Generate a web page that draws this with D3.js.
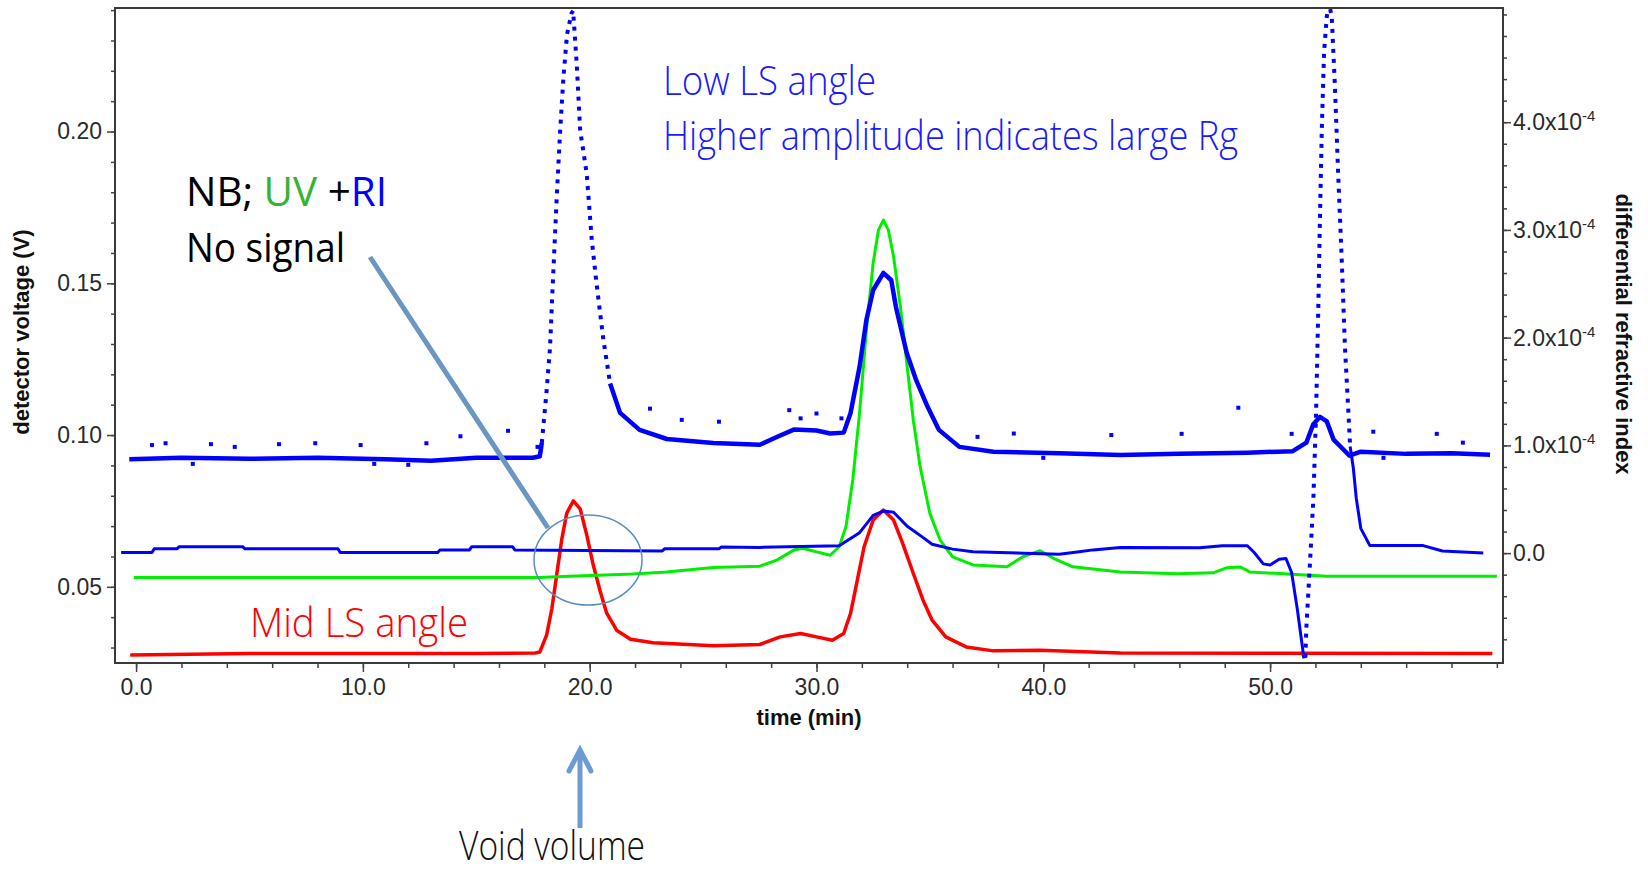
<!DOCTYPE html>
<html>
<head>
<meta charset="utf-8">
<script src="https://cdn.jsdelivr.net/npm/d3@7"></script>
<style>
  html, body { margin: 0; padding: 0; background: #fff; }
  svg { display: block; }
  .tick text { font-family: "Liberation Sans", Arial, sans-serif; fill: #2a2a2a; }
  .note { font-family: "Open Sans", "Noto Sans", sans-serif; }
</style>
</head>
<body>
<svg id="chart" width="1648" height="871"></svg>
<script>
// ---- data ----
// low-angle light scattering (blue dots, left axis, V)
const lsTime = [-0.3, 2, 5, 8, 11, 13, 15, 17.5, 17.8, 17.89, 18.1, 18.25, 18.4, 18.55, 18.7, 18.84, 19.0, 19.2, 19.27,
  19.43, 19.58, 19.87, 20.09, 20.3, 20.6, 20.9, 21.34, 22.2, 23.4, 25.45, 27.5, 28.3, 29.0, 30.0, 30.6, 31.2, 31.5,
  31.9, 32.2, 32.5, 32.95, 33.3, 33.5, 33.98, 34.4, 34.9, 35.4, 36.3, 37.8, 40.7, 43.4, 46, 49, 51.0, 51.6, 51.9,
  52.2, 52.5, 52.8, 53.2, 53.5, 54, 56, 58, 59.7];
const lsVolt = [0.092, 0.0925, 0.0922, 0.0925, 0.092, 0.0915, 0.0925, 0.0925, 0.093, 0.0974, 0.1145, 0.1287, 0.1543,
  0.1788, 0.2005, 0.2176, 0.232, 0.239, 0.2398, 0.222, 0.2005, 0.186, 0.1645, 0.150, 0.1316, 0.117, 0.1073, 0.1017,
  0.0987, 0.0974, 0.0968, 0.0995, 0.1018, 0.1015, 0.1005, 0.1008, 0.1072, 0.1225, 0.1379, 0.1478, 0.1534, 0.151,
  0.1423, 0.127, 0.118, 0.1093, 0.1017, 0.0961, 0.0945, 0.094, 0.0934, 0.0938, 0.0942, 0.0947, 0.0975, 0.1035,
  0.106, 0.1045, 0.0985, 0.0955, 0.0932, 0.0945, 0.0938, 0.094, 0.0935];
// stray points of the noisy LS baseline
const lsSpikeTime = [0.7, 1.3, 2.5, 3.3, 4.35, 6.3, 7.9, 9.9, 10.5, 12.0, 12.8, 14.3, 16.4, 17.7, 22.66, 24.06, 25.7,
  28.8, 29.3, 30.0, 31.1, 37.1, 38.7, 40.0, 43.0, 46.1, 48.6, 50.95, 54.55, 55.0, 57.35, 58.5];
const lsSpikeVolt = [0.0967, 0.0973, 0.0905, 0.097, 0.0961, 0.097, 0.0973, 0.0967, 0.0905, 0.0902, 0.0973, 0.0996,
  0.1014, 0.0961, 0.1087, 0.105, 0.1044, 0.1082, 0.1055, 0.1071, 0.1055, 0.0994, 0.1005, 0.0925, 0.100, 0.1004,
  0.109, 0.1004, 0.1011, 0.0925, 0.1004, 0.0975];

// mid-angle light scattering (red, left axis, V)
const midTime = [-0.26, 5, 10, 15, 17.6, 17.8, 18.1, 18.33, 18.55, 18.77, 18.99, 19.28, 19.58, 19.87, 20.16, 20.46,
  20.75, 21.2, 21.8, 22.8, 25.45, 27.5, 28.4, 29.3, 30.0, 30.7, 31.2, 31.5, 31.8, 32.1, 32.5, 32.95, 33.4, 33.8,
  34.27, 34.7, 35.1, 35.7, 36.6, 37.8, 39.86, 43.4, 50, 59.8];
const midVolt = [0.0275, 0.028, 0.028, 0.028, 0.0282, 0.0285, 0.0341, 0.0427, 0.0542, 0.0657, 0.0743, 0.0783,
  0.0757, 0.0671, 0.0571, 0.0486, 0.0413, 0.0356, 0.0327, 0.0316, 0.0306, 0.031, 0.0335, 0.0346, 0.0335, 0.0324,
  0.0346, 0.0412, 0.0522, 0.0632, 0.072, 0.0753, 0.072, 0.0643, 0.0544, 0.0456, 0.039, 0.0335, 0.0302, 0.0289,
  0.0291, 0.0282, 0.0281, 0.028];

// UV (green, left axis, V)
const uvTime = [-0.1, 17.8, 19.1, 21.9, 23.4, 25.45, 27.5, 28.25, 29.0, 29.4, 30.0, 30.6, 31.0, 31.3, 31.6, 31.9,
  32.2, 32.5, 32.73, 32.95, 33.17, 33.4, 33.7, 34.0, 34.27, 34.57, 35.0, 35.45, 36.0, 36.9, 38.4, 39.1, 39.86,
  40.45, 41.3, 43.4, 45.9, 47.5, 48.1, 48.7, 49.1, 50.6, 52.5, 60.0];
const uvVolt = [0.0531, 0.0531, 0.0535, 0.0542, 0.0549, 0.0564, 0.0568, 0.0588, 0.0621, 0.0627, 0.0615, 0.0604,
  0.0632, 0.0698, 0.0852, 0.1072, 0.1346, 0.1567, 0.1675, 0.1708, 0.1675, 0.1588, 0.1423, 0.1225, 0.1049, 0.0896,
  0.0742, 0.0654, 0.0599, 0.0572, 0.0566, 0.0599, 0.0619, 0.0594, 0.0566, 0.0549, 0.0543, 0.0546, 0.0563, 0.0565,
  0.0549, 0.0543, 0.0535, 0.0535];

// refractive index (blue line, right axis, x1e-4)
const riTime = [-0.66, 0.7, 0.8, 1.8, 1.9, 4.7, 4.8, 8.9, 9.0, 13.3, 13.4, 14.7, 14.8, 16.6, 16.7, 23.2, 23.3,
  25.7, 25.8, 27.5, 31.0, 31.9, 32.5, 32.95, 33.4, 34.0, 34.6, 35.1, 36.0, 36.9, 40.7, 41.5, 42.2, 43.4, 46.9,
  47.9, 49.0, 49.3, 49.7, 50.0, 50.4, 50.7, 50.95, 51.2, 51.47, 51.55, 51.6, 51.76, 51.91, 52.03, 52.13, 52.2,
  52.28, 52.38, 52.5, 52.6, 52.72, 52.86, 53.0, 53.16, 53.3, 53.45, 53.53, 53.67, 53.8, 54.0, 54.4, 56.75, 57.6, 59.4];
const riDelta = [0.006, 0.006, 0.04, 0.04, 0.06, 0.06, 0.04, 0.04, 0.006, 0.006, 0.03, 0.03, 0.06, 0.06, 0.03,
  0.02, 0.04, 0.04, 0.056, 0.053, 0.068, 0.19, 0.35, 0.39, 0.38, 0.25, 0.16, 0.083, 0.037, 0.012, -0.01, 0.01,
  0.03, 0.053, 0.05, 0.068, 0.068, 0.006, -0.10, -0.11, -0.056, -0.05, -0.18, -0.52, -0.94, -1.0, -0.69, -0.09,
  0.51, 1.32, 2.32, 3.12, 3.93, 4.65, 4.98, 5.1, 4.98, 4.33, 3.53, 2.72, 1.92, 1.32, 0.99, 0.79, 0.51, 0.23, 0.07,
  0.07, 0.02, 0.0];

// ticks
const timeTicks = [0, 10, 20, 30, 40, 50];
const voltTicks = [0.05, 0.10, 0.15, 0.20];
const riTicks = [0, 1, 2, 3, 4];

// ---- layout ----
const L = 115, R = 1503, T = 8, B = 663;
const svg = d3.select('#chart');

const x  = d3.scaleLinear().domain([-0.93, 60.27]).range([L, R]);
const yL = d3.scaleLinear().domain([0.0249, 0.2407]).range([B, T]);
const yR = d3.scaleLinear().domain([-1.02, 5.06]).range([B, T]);

svg.append('defs').append('clipPath').attr('id', 'plot')
    .append('rect').attr('x', L).attr('y', T).attr('width', R - L).attr('height', B - T);

const toRows = (ts, vs) => ts.map((t, i) => ({ t, v: vs[i] }));
const ls  = toRows(lsTime, lsVolt);
const mid = toRows(midTime, midVolt);
const uv  = toRows(uvTime, uvVolt);
const ri  = toRows(riTime, riDelta);

const lineL = d3.line().x(d => x(d.t)).y(d => yL(d.v));
const lineR = d3.line().x(d => x(d.t)).y(d => yR(d.v));

const g = svg.append('g').attr('clip-path', 'url(#plot)');

// steep stretches were sampled sparsely, they show as dotted runs
function drawSeries(rows, line, color, width, fast) {
    const inFast = t => fast.some(([a, b]) => t > a && t < b);
    const slow = [];
    let cur = [];
    rows.forEach((d, i) => {
        cur.push(d);
        const nxt = rows[i + 1];
        if (nxt && inFast((d.t + nxt.t) / 2)) { slow.push(cur); cur = []; }
    });
    slow.push(cur);
    slow.filter(s => s.length > 1).forEach(s => {
        g.append('path').attr('d', line(s)).attr('fill', 'none')
            .attr('stroke', color).attr('stroke-width', width).attr('stroke-linejoin', 'round');
    });
    fast.forEach(([a, b]) => {
        const seg = rows.filter(d => d.t >= a && d.t <= b);
        g.append('path').attr('d', line(seg)).attr('fill', 'none')
            .attr('stroke', color).attr('stroke-width', 4).attr('stroke-dasharray', '4 6');
    });
}

drawSeries(mid, lineL, '#ff0000', 3.5, []);
drawSeries(uv, lineL, '#00ee00', 3, []);
drawSeries(ri, lineR, '#0000ff', 3, [[51.47, 53.53]]);
drawSeries(ls, lineL, '#0000ff', 4.5, [[17.85, 20.9]]);

g.selectAll('.spk')
    .data(toRows(lsSpikeTime, lsSpikeVolt))
    .join('rect')
    .attr('class', 'spk')
    .attr('x', d => x(d.t) - 2)
    .attr('y', d => yL(d.v) - 2)
    .attr('width', 4)
    .attr('height', 4)
    .attr('fill', '#0000ff');

// ---- axes ----
function styleAxis(sel, size) {
    sel.select('.domain').remove();
    sel.selectAll('.tick line').attr('stroke', '#444').attr('stroke-width', 1.5);
    sel.selectAll('.tick text').attr('font-size', size);
}

svg.append('g').attr('transform', `translate(0,${B})`)
    .call(d3.axisBottom(x).tickValues(d3.range(0, 61, 2)).tickSize(5).tickFormat(''))
    .call(s => styleAxis(s, 0));
svg.append('g').attr('transform', `translate(0,${B})`)
    .call(d3.axisBottom(x).tickValues(timeTicks).tickSize(9).tickPadding(7).tickFormat(d3.format('.1f')))
    .call(s => styleAxis(s, 23));

svg.append('g').attr('transform', `translate(${L},0)`)
    .call(d3.axisLeft(yL).tickValues(d3.range(0.03, 0.2405, 0.01)).tickSize(4).tickFormat(''))
    .call(s => styleAxis(s, 0));
svg.append('g').attr('transform', `translate(${L},0)`)
    .call(d3.axisLeft(yL).tickValues(voltTicks).tickSize(8).tickPadding(5).tickFormat(d3.format('.2f')))
    .call(s => styleAxis(s, 23));

svg.append('g').attr('transform', `translate(${R},0)`)
    .call(d3.axisRight(yR).tickValues(d3.range(-0.8, 5.01, 0.2)).tickSize(4).tickFormat(''))
    .call(s => styleAxis(s, 0));
const rAx = svg.append('g').attr('transform', `translate(${R},0)`)
    .call(d3.axisRight(yR).tickValues(riTicks).tickSize(8).tickPadding(2).tickFormat(''))
    .call(s => styleAxis(s, 23));
rAx.selectAll('.tick text').each(function (d) {
    const t = d3.select(this);
    if (d === 0) { t.text('0.0'); return; }
    t.append('tspan').text(d3.format('.1f')(d) + 'x10');
    t.append('tspan').attr('dy', -9).attr('font-size', 15).text('-4');
});

svg.append('rect').attr('x', L).attr('y', T).attr('width', R - L).attr('height', B - T)
    .attr('fill', 'none').attr('stroke', '#3a3a3a').attr('stroke-width', 2);

const title = { 'font-family': '"Liberation Sans", Arial, sans-serif', 'font-weight': 'bold', 'font-size': 22, fill: '#111' };
function addTitle(txt, tf) {
    const t = svg.append('text').attr('transform', tf).attr('text-anchor', 'middle').text(txt);
    Object.entries(title).forEach(([k, v]) => t.attr(k, v));
}
addTitle('time (min)', `translate(${(L + R) / 2},725)`);
addTitle('detector voltage (V)', 'translate(29,332) rotate(-90)');
addTitle('differential refractive index', 'translate(1616,334) rotate(90)');

// ---- annotations ----
function note(xp, yp, len, color, weight) {
    return svg.append('text').attr('class', 'note')
        .attr('x', xp).attr('y', yp)
        .attr('font-size', 40).attr('font-weight', weight).attr('fill', color)
        .attr('textLength', len).attr('lengthAdjust', 'spacingAndGlyphs');
}
note(663, 95, 213, '#1a1aff', 300).text('Low LS angle');
note(663, 150, 575, '#1a1aff', 300).text('Higher amplitude indicates large Rg');
const nb = note(186, 206, 201, '#000', 400);
nb.append('tspan').text('NB; ');
nb.append('tspan').attr('fill', '#36b336').text('UV');
nb.append('tspan').text(' +');
nb.append('tspan').attr('fill', '#0000ff').text('RI');
note(186, 262, 159, '#000', 400).text('No signal');
note(250, 637, 218, '#ff0000', 300).text('Mid LS angle');
note(459, 860, 186, '#111', 300).text('Void volume');

svg.append('line').attr('x1', 370).attr('y1', 257).attr('x2', 548).attr('y2', 528)
    .attr('stroke', '#6b96c2').attr('stroke-width', 5);
svg.append('ellipse').attr('cx', 588).attr('cy', 560).attr('rx', 54).attr('ry', 45)
    .attr('fill', 'none').attr('stroke', '#5a8cc2').attr('stroke-width', 1.5);

svg.append('line').attr('x1', 580).attr('y1', 828).attr('x2', 580).attr('y2', 751)
    .attr('stroke', '#6b9bd2').attr('stroke-width', 5);
svg.append('polyline').attr('points', '569,771 580,750 591,771')
    .attr('fill', 'none').attr('stroke', '#6b9bd2').attr('stroke-width', 5)
    .attr('stroke-linejoin', 'miter').attr('stroke-linecap', 'round');
</script>
</body>
</html>
